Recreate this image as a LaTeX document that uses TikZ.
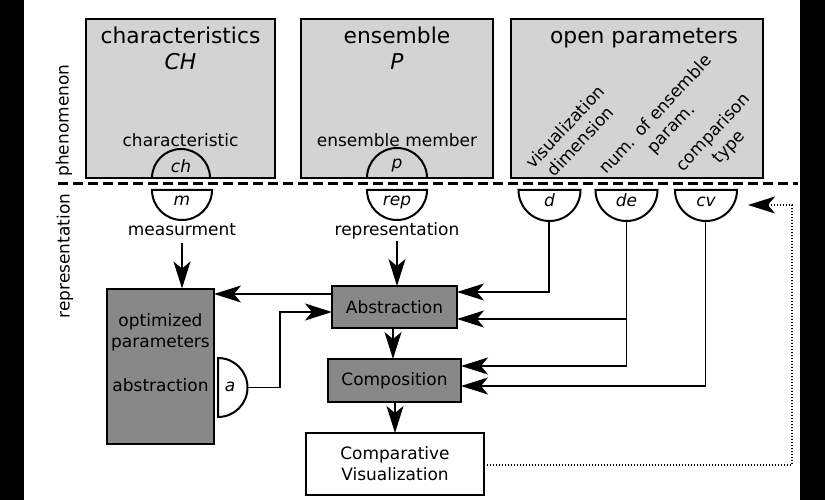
\documentclass[tikz,border=0pt]{standalone}
\usepackage{fontspec}
\setmainfont{DejaVu Sans}
\usetikzlibrary{arrows.meta}
\definecolor{lightbox}{RGB}{211,211,211}
\definecolor{darkbox}{RGB}{136,136,136}
\newcommand{\myTitle}{\fontsize{21.8}{26}\selectfont}
\newcommand{\mySmall}{\fontsize{17}{21}\selectfont}
\begin{document}
\begin{tikzpicture}[x=1pt,y=-1pt,
  box/.style={draw, line width=2.5pt, inner sep=0pt, outer sep=0pt},
  topbox/.style={box, fill=lightbox, minimum height=159pt},
  procbox/.style={box, fill=darkbox, font=\mySmall},
  txt/.style={inner sep=0pt, anchor=base, font=\mySmall},
  itxt/.style={inner sep=0pt, anchor=base, font=\mySmall\itshape},
  ttl/.style={inner sep=0pt, anchor=base, font=\myTitle},
  side/.style={inner sep=0pt, rotate=90, font=\mySmall},
  slanted/.style={inner sep=0pt, rotate=47, align=center, font=\mySmall},
  port/.style={line width=2pt, fill=white},
  tip/.tip={Stealth[length=27pt,width=17pt,inset=7pt]},
  arr/.style={line width=1.5pt, -tip},
  darr/.style={line width=1.6pt, dash pattern=on 1.4pt off 1.6pt, -tip},
  sep/.style={line width=3pt, dash pattern=on 10pt off 5pt}]
\useasboundingbox (0,0) rectangle (825,500);
\fill[white] (0,0) rectangle (825,500);
\fill[black] (0,0) rectangle (24,500);
\fill[black] (800,0) rectangle (825,500);

% top boxes
\node[topbox, minimum width=189pt] (CHbox) at (180.5,98.5) {};
\node[topbox, minimum width=192pt] (Pbox) at (397,98.5) {};
\node[topbox, minimum width=252pt] (OPbox) at (637,98.5) {};

\node[ttl] (chT) at (180.5,43.5) {characteristics};
\node[ttl, font=\myTitle\itshape] (chS) at (180.5,70) {CH};
\node[txt] (chL) at (180.5,147) {characteristic};
\node[ttl] (pT) at (397,43.5) {ensemble};
\node[ttl, font=\myTitle\itshape] (pS) at (397,70) {P};
\node[txt] (pL) at (397,147) {ensemble member};
\node[ttl] (opT) at (644,43.5) {open parameters};
\node[slanted] (visdim) at (572.5,134) {visualization\\dimension};
\node[slanted] (numens) at (664,122) {num. of ensemble\\param.};
\node[slanted] (comptype) at (721.5,140) {comparison\\type};

% upper ports
\draw[line width=2pt] (152,178) arc (180:360:29);
\node[itxt] (ch) at (181,172) {ch};
\draw[line width=2pt] (367,178) arc (180:360:30);
\node[itxt] (p) at (397,168) {p};

% separator
\draw[sep] (58,184) -- (798,184);
\node[side] (phen) at (64,120.5) {phenomenon};
\node[side] (repside) at (65,256) {representation};

% lower ports
\draw[port] (152,190) arc (180:0:30) -- cycle;
\node[itxt] (m) at (182,205) {m};
\draw[port] (367,190) arc (180:0:30) -- cycle;
\node[itxt] (rep) at (397,205) {rep};
\draw[port] (518.5,190) arc (180:0:31) -- cycle;
\node[itxt] (d) at (549.5,206) {d};
\draw[port] (595.5,190) arc (180:0:31) -- cycle;
\node[itxt] (de) at (626.5,206) {de};
\draw[port] (675,190) arc (180:0:31) -- cycle;
\node[itxt] (cv) at (706,206) {cv};
\coordinate (dB) at (549,221);
\coordinate (deB) at (626.5,221);
\coordinate (cvB) at (705.5,221);
\coordinate (cvR) at (748,205);

\node[txt] (meas) at (182,235) {measurment};
\node[txt] (repr) at (397,235) {representation};

% lower boxes
\node[box, fill=darkbox, minimum width=107pt, minimum height=155pt] (opt) at (160.5,366.5) {};
\node[txt] (optA) at (160.5,326) {optimized};
\node[txt] (optB) at (160.5,347) {parameters};
\node[txt] (optC) at (160.5,391.5) {abstraction};
\draw[port] (218,358) arc (270:450:29.5) -- cycle;
\node[itxt] (a) at (230,391.5) {a};
\coordinate (aR) at (247.5,387.5);

\node[procbox, minimum width=125pt, minimum height=42pt] (abs) at (394.5,307) {Abstraction};
\node[procbox, minimum width=133pt, minimum height=43pt] (comp) at (394.5,380.5) {Composition};
\node[box, fill=white, font=\mySmall, align=center, minimum width=178pt, minimum height=62pt] (vis) at (395,464) {Comparative\\Visualization};

% helper coordinates
\coordinate (y294) at (0,294);
\coordinate (y312) at (0,312);
\coordinate (y292) at (0,292);
\coordinate (y319) at (0,319);
\coordinate (y366) at (0,366);
\coordinate (y386) at (0,386);
\coordinate (y465) at (0,465);
\coordinate (abend) at (280,387.5);
\coordinate (dotc) at (792,205);

% connectors
\draw[arr] (182,243) -- (182,288.5);
\draw[arr] (397,241) -- (abs.north -| 397,0);
\draw[arr] (abs.west |- y294) -- (opt.east |- y294);
\draw[arr] (aR) -- (abend) |- (abs.west |- y312);
\draw[arr] (dB) |- (abs.east |- y292);
\draw[arr] (deB) |- (abs.east |- y319);
\draw[arr] (deB) |- (comp.east |- y366);
\draw[arr] (cvB) |- (comp.east |- y386);
\draw[arr] (abs.south -| 393,0) -- (comp.north -| 393,0);
\draw[arr] (comp.south -| 395,0) -- (vis.north -| 395,0);
\draw[darr] (vis.east |- y465) -| (dotc) -- (cvR);
\end{tikzpicture}
\end{document}
